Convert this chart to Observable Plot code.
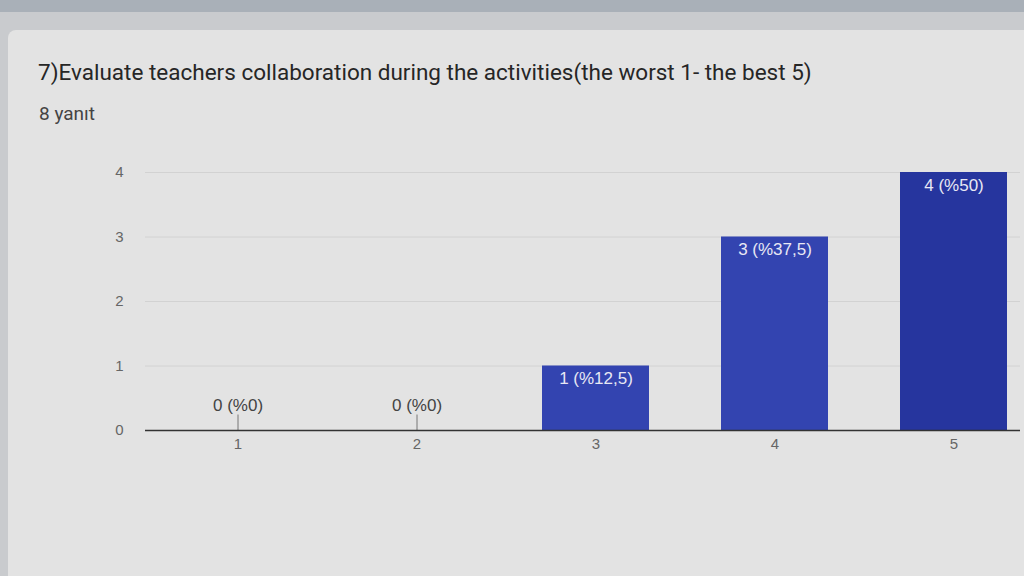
<!DOCTYPE html>
<html>
<head>
<meta charset="utf-8">
<script src="https://cdn.jsdelivr.net/npm/d3@7"></script>
<script src="https://cdn.jsdelivr.net/npm/@observablehq/plot@0.6"></script>
<style>
  html, body { margin: 0; padding: 0; }
  body { width: 1024px; height: 576px; background: #c9cbce; overflow: hidden; font-family: Roboto, "Liberation Sans", Arial, sans-serif; position: relative; }
  .strip { position: absolute; left: 0; top: 0; width: 1024px; height: 12px; background: #a9b0b8; }
  .card { position: absolute; left: 8px; top: 30px; width: 1030px; height: 560px; background: #e3e3e3; border-radius: 8px; }
  .title { position: absolute; left: 30px; top: 29px; font-size: 22.5px; color: #262626; white-space: nowrap; }
  .sub { position: absolute; left: 31px; top: 72px; font-size: 19px; color: #444; }
  #chart { position: absolute; left: -8px; top: 120px; }
</style>
</head>
<body>
<div class="strip"></div>
<div class="card">
  <div class="title">7)Evaluate teachers collaboration during the activities(the worst 1- the best 5)</div>
  <div class="sub">8 yanıt</div>
  <div id="chart"></div>
</div>
<script>
const categories = ["1", "2", "3", "4", "5"];
const counts = [0, 0, 1, 3, 4];
const labels = ["0 (%0)", "0 (%0)", "1 (%12,5)", "3 (%37,5)", "4 (%50)"];
const yTicks = [0, 1, 2, 3, 4];

const data = categories.map((c, i) => ({cat: c, value: counts[i], label: labels[i]}));
const zero = data.filter(d => d.value === 0);
const nonzero = data.filter(d => d.value > 0);

const chart = Plot.plot({
  width: 1030,
  height: 320,
  marginLeft: 145,
  marginRight: 10,
  marginTop: 22,
  marginBottom: 40,
  style: {background: "transparent", fontFamily: "'Liberation Sans', Arial, sans-serif", fontSize: "15px", color: "#666"},
  x: {domain: categories, range: [183, 1009], paddingInner: 0.4, paddingOuter: 0, label: null, tickSize: 0, tickPadding: 8},
  y: {domain: [0, 4], ticks: yTicks, tickFormat: "d", label: null, tickSize: 0, tickPadding: 22},
  marks: [
    Plot.gridY(yTicks, {stroke: "#d2d2d2", strokeOpacity: 1}),
    Plot.barY(nonzero, {x: "cat", y: "value", fill: d => d.value === 4 ? "#26359e" : "#3344b0"}),
    Plot.ruleX(zero, {x: "cat", y1: 0, y2: 0.24, stroke: "#777"}),
    Plot.text(zero, {x: "cat", y: 0, text: "label", dy: -25, fill: "#444", fontSize: 17}),
    Plot.text(nonzero, {x: "cat", y: "value", text: "label", dy: 13, fill: "#e8e8f4", fontSize: 17}),
    Plot.ruleY([0], {stroke: "#333", strokeWidth: 1.5})
  ]
});
document.getElementById("chart").appendChild(chart);
</script>
</body>
</html>
